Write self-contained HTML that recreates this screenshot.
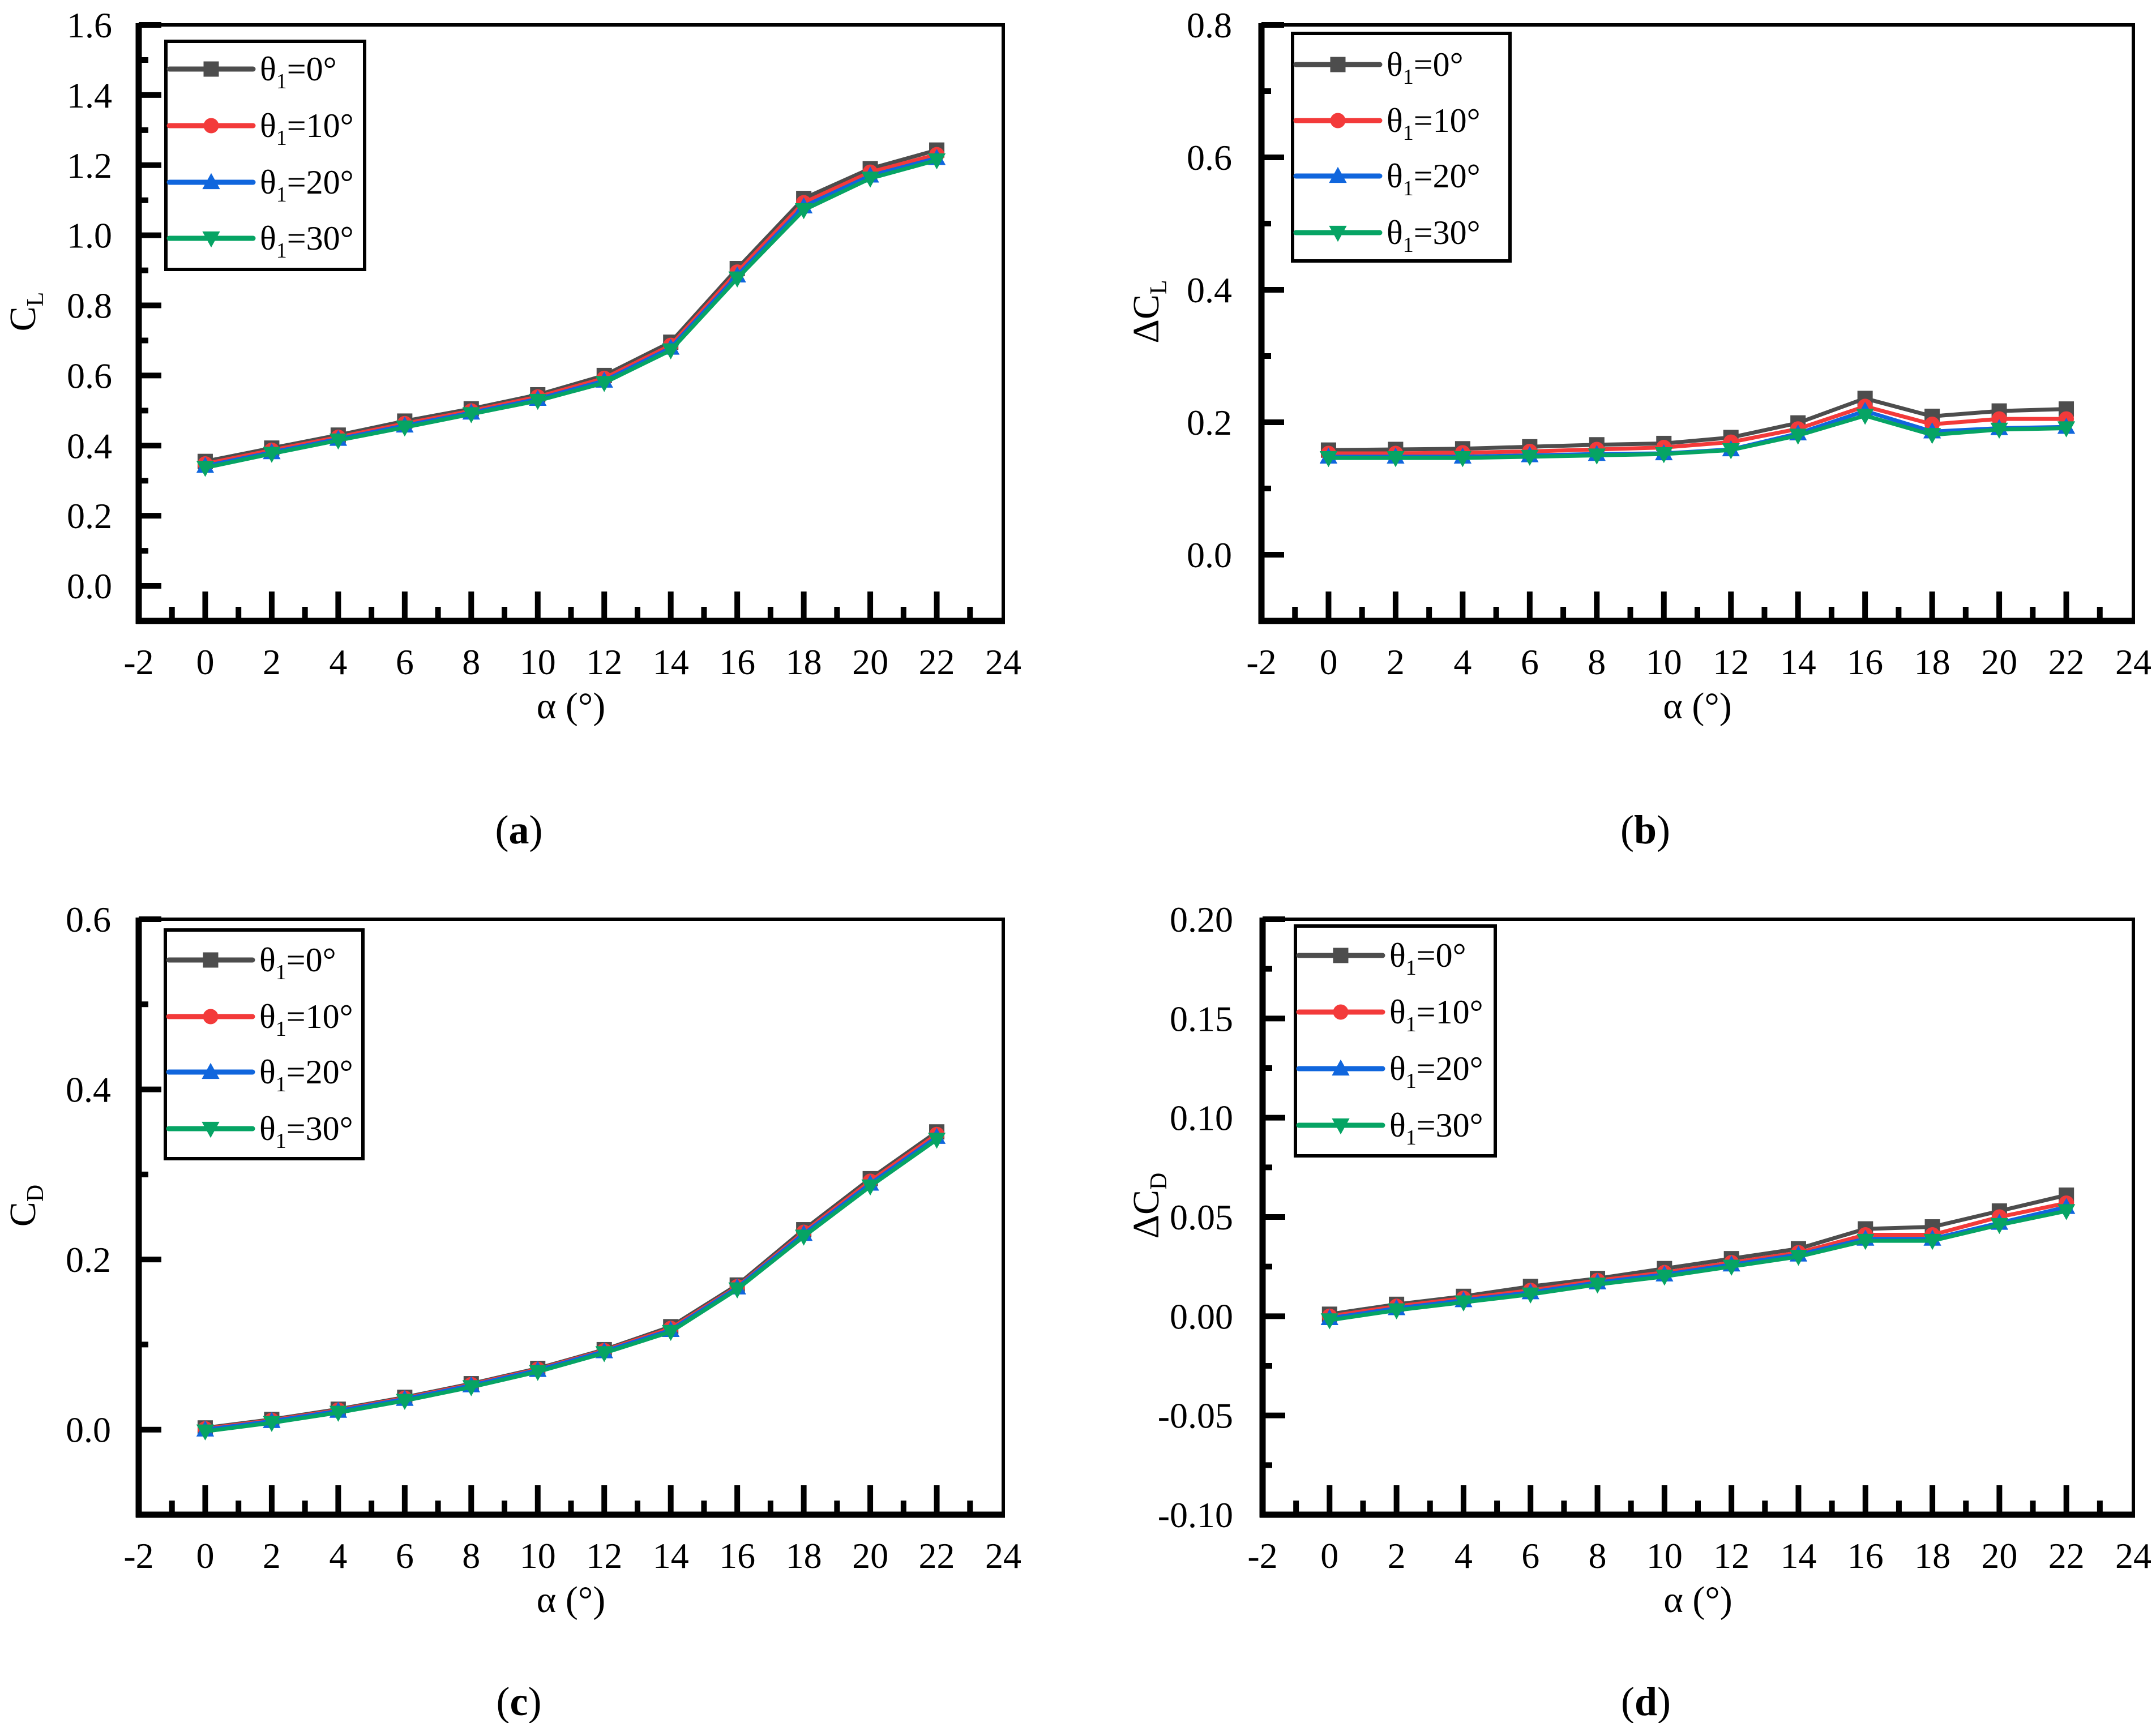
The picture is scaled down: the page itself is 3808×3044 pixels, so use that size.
<!DOCTYPE html>
<html><head><meta charset="utf-8">
<style>
html,body{margin:0;padding:0;background:#fff;}
svg{display:block;font-family:"Liberation Serif","Times New Roman",serif;}
</style></head>
<body>
<svg id="fig" width="3808" height="3044" viewBox="0 0 3808 3044" xmlns="http://www.w3.org/2000/svg"></svg>
<script>
// shared x data
const alphas = [0,2,4,6,8,10,12,14,16,18,20,22];
const seriesNames = ["θ1=0°","θ1=10°","θ1=20°","θ1=30°"];
const xTicks = [-2,0,2,4,6,8,10,12,14,16,18,20,22,24];
// panel a: CL
const clT0  = [0.355,0.393,0.430,0.470,0.505,0.545,0.600,0.695,0.905,1.105,1.190,1.243];
const clT10 = [0.348,0.387,0.424,0.463,0.499,0.539,0.592,0.686,0.895,1.093,1.180,1.230];
const clT20 = [0.342,0.381,0.419,0.457,0.494,0.533,0.585,0.679,0.885,1.082,1.170,1.220];
const clT30 = [0.337,0.377,0.415,0.452,0.490,0.528,0.579,0.672,0.877,1.072,1.162,1.214];
const clTicks = ["0.0","0.2","0.4","0.6","0.8","1.0","1.2","1.4","1.6"];
// panel b: dCL
const dclT0  = [0.158,0.159,0.160,0.163,0.166,0.168,0.177,0.199,0.236,0.209,0.217,0.220];
const dclT10 = [0.153,0.153,0.154,0.156,0.159,0.162,0.170,0.190,0.224,0.197,0.205,0.205];
const dclT20 = [0.148,0.148,0.148,0.150,0.152,0.153,0.159,0.183,0.217,0.186,0.191,0.193];
const dclT30 = [0.146,0.146,0.146,0.148,0.150,0.152,0.158,0.180,0.210,0.181,0.189,0.191];
const dclTicks = ["0.0","0.2","0.4","0.6","0.8"];
// panel c: CD
const cdT0  = [0.002,0.012,0.024,0.038,0.054,0.072,0.094,0.121,0.170,0.235,0.295,0.350];
const cdT10 = [0.001,0.011,0.023,0.037,0.053,0.071,0.093,0.119,0.168,0.232,0.292,0.347];
const cdT20 = [0.000,0.010,0.022,0.036,0.052,0.070,0.092,0.117,0.167,0.230,0.289,0.344];
const cdT30 = [-0.002,0.008,0.020,0.034,0.050,0.068,0.090,0.115,0.165,0.227,0.286,0.341];
const cdTicks = ["0.0","0.2","0.4","0.6"];
// panel d: dCD
const dcdT0  = [0.001,0.006,0.010,0.015,0.019,0.024,0.029,0.034,0.044,0.045,0.053,0.061];
const dcdT10 = [0.000,0.005,0.009,0.013,0.018,0.022,0.027,0.032,0.041,0.041,0.050,0.057];
const dcdT20 = [-0.001,0.004,0.008,0.012,0.017,0.021,0.026,0.031,0.039,0.039,0.047,0.055];
const dcdT30 = [-0.002,0.003,0.007,0.011,0.016,0.020,0.025,0.030,0.038,0.038,0.046,0.053];
const dcdTicks = ["-0.10","-0.05","0.00","0.05","0.10","0.15","0.20"];

const NS="http://www.w3.org/2000/svg";
const svg=document.getElementById('fig');
const colors=["#4d4d4d","#f33a3a","#1066dd","#06a464"];
const markers=["square","circle","up","down"];
function mk(tag,attrs,parent){const e=document.createElementNS(NS,tag);for(const k in attrs)e.setAttribute(k,attrs[k]);(parent||svg).appendChild(e);return e;}

function marker(g,type,x,y,c,s){
  let e;
  if(type==="square"){e=mk('rect',{x:x-s/2,y:y-s/2,width:s,height:s,fill:c},g);}
  else if(type==="circle"){e=mk('circle',{cx:x,cy:y,r:s/2,fill:c},g);}
  else if(type==="up"){e=mk('polygon',{points:`${x},${y-s*0.6} ${x-s*0.58},${y+s*0.45} ${x+s*0.58},${y+s*0.45}`,fill:c},g);}
  else {e=mk('polygon',{points:`${x},${y+s*0.6} ${x-s*0.58},${y-s*0.45} ${x+s*0.58},${y-s*0.45}`,fill:c},g);}
  
  
}

function panel(o){
  const g=mk('g',{});
  
  
  const X=v=>o.L+(v-(-2))/26*(o.R-o.L);
  const Y=v=>o.B-(v-o.ymin)/(o.ymax-o.ymin)*(o.B-o.T);
  const fr=mk('rect',{x:o.L,y:o.T,width:o.R-o.L,height:o.B-o.T,fill:'none',stroke:'#000','stroke-width':6},g);
  
  
  const la=mk('line',{x1:o.L,y1:o.T-3,x2:o.L,y2:o.B+5,stroke:'#000','stroke-width':11},g);
  
  
  const ba=mk('line',{x1:o.L-5,y1:o.B,x2:o.R+3,y2:o.B,stroke:'#000','stroke-width':11},g);
  
  
  for(let v=-1;v<=23;v++){
    const maj=v%2===0;
    const t=mk('line',{x1:X(v),y1:o.B,x2:X(v),y2:o.B-(maj?52:25),stroke:'#000','stroke-width':10},g);
    
    
  }
  xTicks.forEach(v=>{
    const t=mk('text',{x:X(v),y:o.B+94,'font-size':64,'text-anchor':'middle'},g);
    t.textContent=String(v);
    
    
  });
  const n=Math.round((o.ymax-o.ymin)/o.minor);
  for(let i=0;i<=n;i++){
    const v=o.ymin+i*o.minor;
    const maj=Math.abs(v/o.major-Math.round(v/o.major))<1e-6;
    if(v<=o.ymin+1e-9&&!maj) continue;
    const t=mk('line',{x1:o.L,y1:Y(v),x2:o.L+(maj?40:17),y2:Y(v),stroke:'#000','stroke-width':10},g);
    
    
  }
  o.ticks.forEach(s=>{
    const t=mk('text',{x:o.yLabR,y:Y(parseFloat(s))+22,'font-size':64,'text-anchor':'end'},g);
    t.textContent=s;
    
    
  });
  o.data.forEach((arr,si)=>{
    const pts=alphas.map((a,i)=>X(a)+','+Y(arr[i])).join(' ');
    const pl=mk('polyline',{points:pts,fill:'none',stroke:colors[si],'stroke-width':7,'stroke-linejoin':'round'},g);
    
    
    alphas.forEach((a,i)=>marker(g,markers[si],X(a),Y(arr[i]),colors[si],27));
  });
  const lg=mk('g',{},g);
  
  
  const lb=mk('rect',{x:o.lg[0],y:o.lg[1],width:o.lg[2]-o.lg[0],height:o.lg[3]-o.lg[1],fill:'#fff',stroke:'#000','stroke-width':6},lg);
  
  
  o.lgY.forEach((yy,si)=>{
    const x0=o.lg[0]+6;
    const l=mk('line',{x1:x0,y1:yy,x2:x0+148,y2:yy,stroke:colors[si],'stroke-width':9,'stroke-linecap':'round'},lg);
    
    
    marker(lg,markers[si],x0+74,yy,colors[si],27);
    const t=mk('text',{x:x0+160,y:yy+20,'font-size':60},lg);
    
    
    const nm=seriesNames[si];
    const a=document.createElementNS(NS,'tspan');a.textContent='θ';t.appendChild(a);
    const b=document.createElementNS(NS,'tspan');b.setAttribute('font-size','38');b.setAttribute('dy','14');b.textContent='1';t.appendChild(b);
    const c=document.createElementNS(NS,'tspan');c.setAttribute('dy','-14');c.textContent=nm.slice(2);t.appendChild(c);
  });
  const yt=mk('text',{x:0,y:0,'font-size':66,'text-anchor':'middle',transform:`translate(${o.ytX},${(o.T+o.B)/2-20}) rotate(-90)`},g);
  
  
  const p1=document.createElementNS(NS,'tspan');p1.textContent=o.ytPre+'C';yt.appendChild(p1);
  const p2=document.createElementNS(NS,'tspan');p2.setAttribute('font-size','42');p2.setAttribute('dy','14');p2.textContent=o.ytSub;yt.appendChild(p2);
  const xt=mk('text',{x:(o.L+o.R)/2,y:o.B+172,'font-size':66,'text-anchor':'middle'},g);
  xt.textContent='α (°)';
  
  
  const pl=mk('text',{x:(o.L+o.R)/2-92,y:o.labY,'font-size':72,'text-anchor':'middle'},g);
  
  
  const q1=document.createElementNS(NS,'tspan');q1.textContent='(';pl.appendChild(q1);
  const q2=document.createElementNS(NS,'tspan');q2.setAttribute('font-weight','bold');q2.textContent=o.label;pl.appendChild(q2);
  const q3=document.createElementNS(NS,'tspan');q3.textContent=')';pl.appendChild(q3);
}

panel({name:'panel-a-lift',L:245,R:1772,T:44,B:1097,ymin:-0.1,ymax:1.6,major:0.2,minor:0.1,ticks:clTicks,yLabR:198,
  data:[clT0,clT10,clT20,clT30],lg:[293,73,644,476],lgY:[122,222,322,421],ytX:62,ytPre:'',ytSub:'L',label:'a',labY:1490});
panel({name:'panel-b-delta-lift',L:2228,R:3768,T:44,B:1097,ymin:-0.1,ymax:0.8,major:0.2,minor:0.1,ticks:dclTicks,yLabR:2176,
  data:[dclT0,dclT10,dclT20,dclT30],lg:[2283,59,2667,461],lgY:[114,213,311,411],ytX:2046,ytPre:'Δ',ytSub:'L',label:'b',labY:1490});
panel({name:'panel-c-drag',L:245,R:1772,T:1624,B:2676,ymin:-0.1,ymax:0.6,major:0.2,minor:0.1,ticks:cdTicks,yLabR:196,
  data:[cdT0,cdT10,cdT20,cdT30],lg:[292,1643,641,2047],lgY:[1696,1796,1894,1994],ytX:62,ytPre:'',ytSub:'D',label:'c',labY:3030});
panel({name:'panel-d-delta-drag',L:2230,R:3768,T:1624,B:2676,ymin:-0.1,ymax:0.2,major:0.05,minor:0.025,ticks:dcdTicks,yLabR:2178,
  data:[dcdT0,dcdT10,dcdT20,dcdT30],lg:[2288,1636,2641,2042],lgY:[1688,1788,1888,1988],ytX:2046,ytPre:'Δ',ytSub:'D',label:'d',labY:3030});
</script>
</body></html>
